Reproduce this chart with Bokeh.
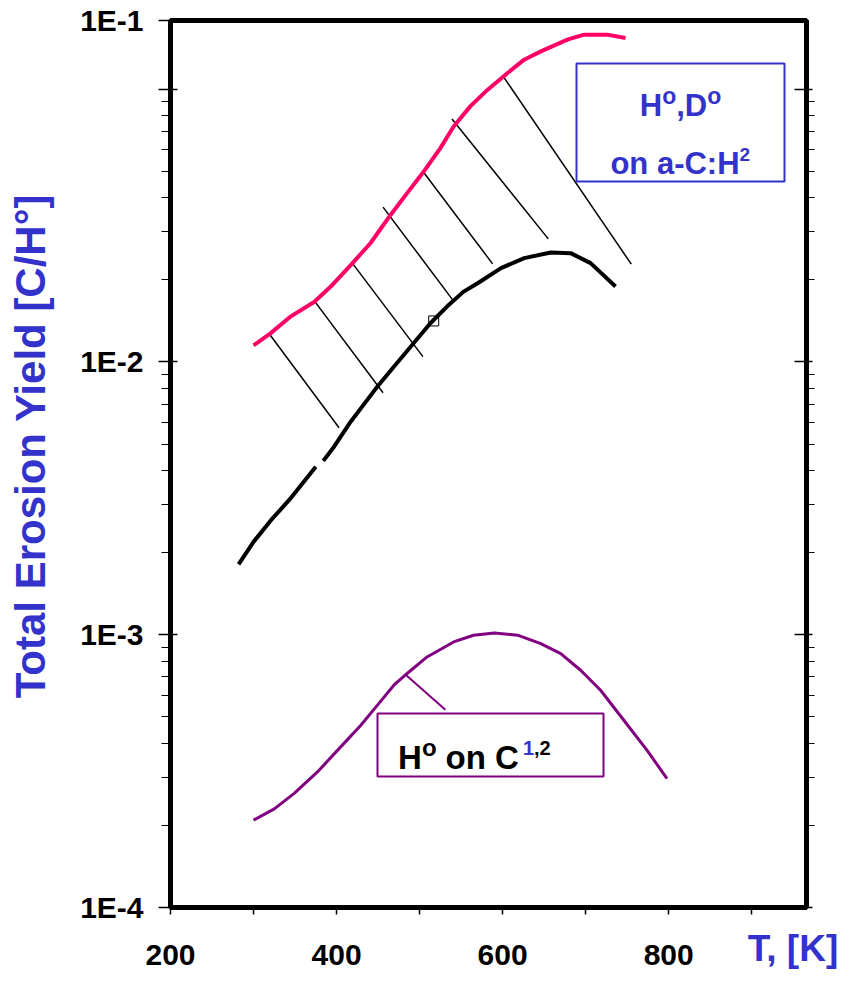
import math
from bokeh.plotting import figure
from bokeh.models import Label, BoxAnnotation, FixedTicker, LogAxis, LinearAxis
from bokeh.embed import file_html
from bokeh.resources import INLINE

# ---------------- data ----------------
# a-C:H upper bound (red)
red_T = [300, 320, 345, 373, 393, 419, 441, 465, 485, 505, 525, 541, 561, 582, 606, 626, 646, 678, 698, 726, 748]
red_Y = [0.0115, 0.0127, 0.0147, 0.0166, 0.0189, 0.0230, 0.0273, 0.0346, 0.0416, 0.0499, 0.0608,
         0.0730, 0.0865, 0.0996, 0.1147, 0.1283, 0.1376, 0.1519, 0.1585, 0.1585, 0.1541]
# a-C:H lower bound (black), small break in the line
black_T = [282, 300, 321, 343, 375, float("nan"), 384, 397, 417, 437, 449, 469, 491, 513, 533, 553, 570,
           598, 626, 658, 682, 706, 736]
black_Y = [0.00181, 0.00219, 0.00263, 0.00312, 0.00413, float("nan"), 0.00434, 0.00489, 0.00604, 0.00726,
           0.00811, 0.00961, 0.01154, 0.01387, 0.01596, 0.01811, 0.01944, 0.02207, 0.02402, 0.02518,
           0.02506, 0.02303, 0.0189]
# H on C (purple)
purple_T = [300, 325, 349, 377, 405, 429, 449, 469, 485, 509, 541, 565, 590, 618, 646, 670, 694, 718, 746, 774, 798]
purple_Y = [2.09e-4, 2.30e-4, 2.62e-4, 3.14e-4, 3.88e-4, 4.65e-4, 5.51e-4, 6.53e-4, 7.21e-4, 8.29e-4,
            9.41e-4, 9.96e-4, 1.015e-3, 9.96e-4, 9.28e-4, 8.53e-4, 7.41e-4, 6.26e-4, 4.86e-4, 3.77e-4, 2.97e-4]
# hatch lines between the two a-C:H curves
hatch_T0 = [320, 373, 419, 456, 505, 539, 602]
hatch_Y0 = [0.01256, 0.01679, 0.02303, 0.03695, 0.0495, 0.0777, 0.1100]
hatch_T1 = [403, 456, 504, 541, 588, 655, 755]
hatch_Y1 = [0.00574, 0.00771, 0.01046, 0.01671, 0.02289, 0.02827, 0.02283]
# single open square point
mark_T = [517]
mark_Y = [0.01414]
# leader line from purple curve to its label box
lead_T = [484, 531]
lead_Y = [7.10e-4, 5.31e-4]

x_ticks = [200, 300, 400, 500, 600, 700, 800, 900]
x_tick_labels = ["200", "", "400", "", "600", "", "800", ""]
y_ticks = [1e-4, 1e-3, 1e-2, 1e-1, 0.178]
y_tick_labels = ["1E-4", "1E-3", "1E-2", "", "1E-1"]
y_minor = [m * 10.0 ** k for k in (-4, -3, -2) for m in range(2, 10)]
x_title = "T, [K]"
y_title = "Total Erosion Yield [C/H\u00b0]"

# ---------------- layout ----------------
X0, X1 = 200, 966
Y0, Y1 = 1e-4, 0.1786
FL, FT, FW, FH = 170, 20, 636, 887
W, H = 850, 982
FONT = "Liberation Sans"
BLUE = "#3333cc"
PURPLE = "#800080"
RED = "#ff0066"


def px_T(x):
    return X0 + (x - FL) / FW * (X1 - X0)


def px_Y(y):
    l0, l1 = math.log10(Y0), math.log10(Y1)
    return 10 ** (l0 + (FT + FH - y) / FH * (l1 - l0))


p = figure(width=W, height=H, y_axis_type="log", x_range=(X0, X1), y_range=(Y0, Y1),
           output_backend="svg", toolbar_location=None,
           min_border_left=FL, min_border_right=W - FL - FW,
           min_border_top=FT, min_border_bottom=H - FT - FH)
p.background_fill_color = "white"
p.border_fill_color = "white"
p.xgrid.visible = False
p.ygrid.visible = False
p.outline_line_color = "black"
p.outline_line_width = 5

# bottom axis
xa = p.xaxis[0]
xa.ticker = FixedTicker(ticks=x_ticks, minor_ticks=[])
xa.major_label_overrides = {t: s for t, s in zip(x_ticks, x_tick_labels)}
xa.axis_line_width = 5
xa.major_tick_out = 7
xa.major_tick_in = 0
xa.major_tick_line_width = 1.5
xa.minor_tick_line_color = None
xa.major_label_standoff = 30
xa.major_label_text_font = FONT
xa.major_label_text_font_style = "bold"
xa.major_label_text_font_size = "30px"
xa.major_label_text_color = "black"

# x title as a label-only axis pulled up into the tick-label row
xt_pos = px_T(792.5)
xt = LinearAxis(ticker=FixedTicker(ticks=[xt_pos], minor_ticks=[]),
                major_label_overrides={xt_pos: x_title},
                axis_line_color=None, major_tick_line_color=None, minor_tick_line_color=None,
                major_tick_out=0, major_tick_in=0, major_label_standoff=-40,
                major_label_text_font=FONT, major_label_text_font_style="bold",
                major_label_text_font_size="37px", major_label_text_color=BLUE)
p.add_layout(xt, "below")

# left axis
ya = p.yaxis[0]
ya.ticker = FixedTicker(ticks=y_ticks, minor_ticks=y_minor)
ya.major_label_overrides = {t: s for t, s in zip(y_ticks, y_tick_labels)}
ya.axis_line_width = 5
ya.major_tick_out = 12
ya.major_tick_in = 7
ya.minor_tick_out = 9
ya.minor_tick_in = 0
ya.major_tick_line_width = 1.5
ya.minor_tick_line_width = 1.2
ya.major_label_standoff = 15
ya.major_label_text_font = FONT
ya.major_label_text_font_style = "bold"
ya.major_label_text_font_size = "30px"
ya.major_label_text_color = "black"

# y title as a label-only axis (one rotated label)
yt_pos = px_Y(445.5)
yt = LogAxis(ticker=FixedTicker(ticks=[yt_pos], minor_ticks=[]),
             major_label_overrides={yt_pos: y_title}, major_label_orientation="parallel",
             axis_line_color=None, major_tick_line_color=None, minor_tick_line_color=None,
             major_tick_out=0, major_tick_in=0, major_label_standoff=24,
             major_label_text_font=FONT, major_label_text_font_style="bold",
             major_label_text_font_size="42px", major_label_text_color=BLUE)
p.add_layout(yt, "left")

# right axis (ticks only)
ra = LogAxis(ticker=FixedTicker(ticks=y_ticks[:4], minor_ticks=y_minor),
             major_label_overrides={t: "" for t in y_ticks[:4]},
             major_label_text_font_size="0px",
             axis_line_width=5, major_tick_out=6, major_tick_in=12,
             minor_tick_out=8, minor_tick_in=0,
             major_tick_line_width=1.5, minor_tick_line_width=1.2)
p.add_layout(ra, "right")

# ---------------- glyphs ----------------
p.segment(x0=hatch_T0, y0=hatch_Y0, x1=hatch_T1, y1=hatch_Y1, line_color="black", line_width=1.5)
p.line(red_T, red_Y, line_color=RED, line_width=4)
p.line(black_T, black_Y, line_color="black", line_width=4)
p.line(purple_T, purple_Y, line_color=PURPLE, line_width=3)
p.line(lead_T, lead_Y, line_color=PURPLE, line_width=2)
p.scatter(mark_T, mark_Y, marker="square", size=10, fill_color=None, line_color="black", line_width=1)

# label boxes
p.add_layout(BoxAnnotation(left=px_T(576), right=px_T(784), top=px_Y(63), bottom=px_Y(181),
                           fill_color="white", fill_alpha=1, line_color=BLUE, line_alpha=1,
                           line_width=2, level="annotation"))
p.add_layout(BoxAnnotation(left=px_T(377), right=px_T(603), top=px_Y(713), bottom=px_Y(776),
                           fill_color="white", fill_alpha=1, line_color=PURPLE, line_alpha=1,
                           line_width=2, level="annotation"))

# ---------------- rich text helper ----------------
WID = {" ": 278, ",": 278, "-": 333, ".": 278, "/": 278, ":": 333, "[": 333, "]": 333,
       "0": 556, "1": 556, "2": 556, "3": 556, "4": 556, "5": 556, "6": 556, "7": 556, "8": 556, "9": 556,
       "C": 722, "D": 722, "E": 667, "H": 722, "K": 722, "T": 611, "Y": 667,
       "a": 556, "d": 611, "e": 556, "i": 278, "l": 278, "n": 611, "o": 611, "r": 389, "s": 556, "t": 333}


def adv(s, size):
    return sum(WID.get(c, 556) for c in s) / 1000.0 * size


def rich(x, y, pieces):
    # pieces: (text, font px, colour, rise px, gap before px)
    pos = 0.0
    for text, size, color, rise, gap in pieces:
        pos += gap
        p.add_layout(Label(x=px_T(x + pos), y=px_Y(y - rise), text=text,
                           text_font=FONT, text_font_style="bold", text_font_size=f"{size}px",
                           text_color=color, text_baseline="alphabetic", text_align="left"))
        pos += adv(text, size)


# blue box text
rich(639.3, 105, [("H", 31, BLUE, 0, 0), ("o", 23, BLUE, 10, 0), (",D", 31, BLUE, 0, 0),
                  ("o", 23, BLUE, 10, 0)])
rich(609.9, 163, [("on a-C:H", 31, BLUE, 0, 0), ("2", 19, BLUE, 9, 0)])
# purple box text
rich(397.6, 757, [("H", 33, "black", 0, 0), ("o", 24, "black", 10, 0), ("on C", 33, "black", 0, 9),
                  ("1", 20, BLUE, 10, 4), (",2", 20, "black", 10, 0)])

open("out.html", "w").write(file_html(p, INLINE))
